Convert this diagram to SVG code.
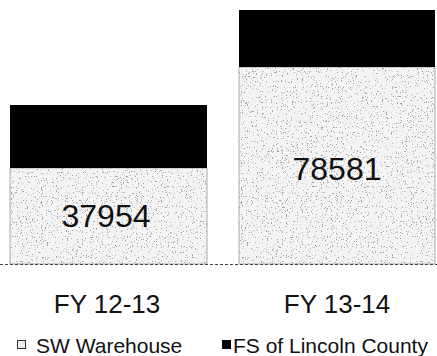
<svg xmlns="http://www.w3.org/2000/svg" width="437" height="356" viewBox="0 0 437 356">
<style>
.lbl{font-family:"Liberation Sans",Arial,sans-serif;fill:#111}
.val{font-size:32px;text-anchor:middle}
.cat{font-size:26px;text-anchor:middle}
.leg{font-size:21px}
.sw{fill:url(#speck);stroke:#999;stroke-width:0.8}
.fs{fill:#000}
</style>
<defs>
<filter id="noise" x="0" y="0" width="100%" height="100%">
<feTurbulence type="fractalNoise" baseFrequency="0.8" numOctaves="2" seed="4" result="t"/>
<feColorMatrix in="t" type="matrix" values="0 0 0 0 0.35  0 0 0 0 0.35  0 0 0 0 0.35  0 0 0 12 -7.6"/>
</filter>
<pattern id="speck" patternUnits="userSpaceOnUse" width="200" height="200">
<rect width="200" height="200" fill="#f4f4f4"/>
<rect width="200" height="200" filter="url(#noise)"/>
</pattern>
</defs>
<g id="bar-fy1213">
<rect class="sw" x="10" y="168" width="197" height="96"/>
<rect class="fs" x="10" y="105" width="197" height="63"/>
<text class="lbl val" x="106" y="227">37954</text>
</g>
<g id="bar-fy1314">
<rect class="sw" x="239" y="67" width="196" height="197"/>
<rect class="fs" x="239" y="10" width="196" height="57"/>
<text class="lbl val" x="337" y="180">78581</text>
</g>
<g id="axis">
<line x1="0" y1="264.5" x2="437" y2="264.5" stroke="#444" stroke-width="1" stroke-dasharray="3 2"/>
</g>
<g id="categories">
<text class="lbl cat" x="107" y="313">FY 12-13</text>
<text class="lbl cat" x="337" y="313">FY 13-14</text>
</g>
<g id="legend">
<rect x="17.5" y="340.5" width="8" height="8" fill="#eee" stroke="#333" stroke-width="1"/>
<text class="lbl leg" x="36" y="353">SW Warehouse</text>
<rect x="222" y="340" width="9" height="9" fill="#000"/>
<text class="lbl leg" x="233" y="353">FS of Lincoln County</text>
</g>
</svg>
